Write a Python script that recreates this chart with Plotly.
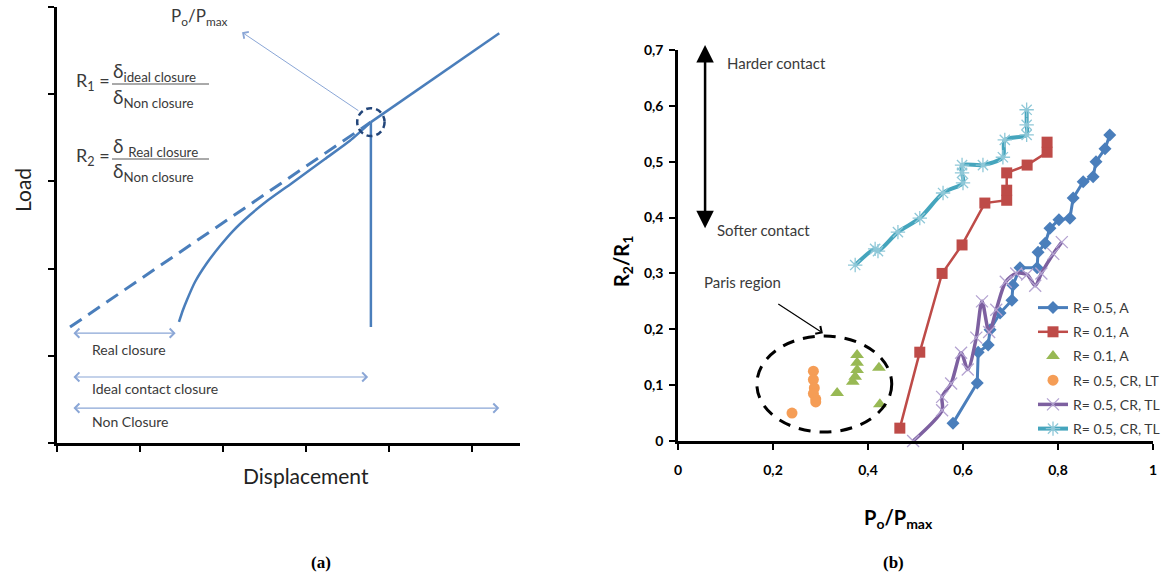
import plotly.graph_objects as go

W, H = 1168, 580

# ---------------- Panel (a): schematic load-displacement data ----------------
ideal_x = [0.157, 3.783]
ideal_y = [1.33, 3.68]
real_x = [1.470, 1.518, 1.566, 1.663, 1.807, 1.964, 2.120, 2.325, 2.530, 2.867, 3.229, 3.530, 3.783]
real_y = [1.388, 1.525, 1.640, 1.846, 2.064, 2.259, 2.431, 2.615, 2.775, 3.005, 3.257, 3.466, 3.680]
open_x = [3.783, 5.33]
open_y = [3.68, 4.70]
unload_x = [3.783, 3.783]
unload_y = [3.68, 1.33]
span_labels = ["Real closure", "Ideal contact closure", "Non Closure"]
span_start = [0.18, 0.18, 0.18]
span_end = [1.43, 3.75, 5.33]
span_y = [1.26, 0.757, 0.40]
label_y = [1.07, 0.62, 0.25]

# ---------------- Panel (b): R2/R1 vs Po/Pmax ----------------
blue_x = [0.579, 0.630, 0.632, 0.653, 0.657, 0.678, 0.703, 0.705, 0.720, 0.756,
          0.758, 0.773, 0.783, 0.802, 0.825, 0.832, 0.853, 0.874, 0.880, 0.899, 0.909]
blue_y = [0.032, 0.104, 0.159, 0.172, 0.199, 0.229, 0.252, 0.279, 0.310, 0.310,
          0.338, 0.354, 0.381, 0.396, 0.399, 0.435, 0.464, 0.473, 0.500, 0.523, 0.548]
red_x = [0.467, 0.509, 0.556, 0.598, 0.646, 0.692, 0.692, 0.692, 0.735, 0.777, 0.777]
red_y = [0.023, 0.159, 0.300, 0.351, 0.426, 0.431, 0.449, 0.480, 0.494, 0.517, 0.535]
green_x = [0.335, 0.377, 0.377, 0.377, 0.373, 0.368, 0.423, 0.425]
green_y = [0.086, 0.154, 0.140, 0.127, 0.115, 0.106, 0.131, 0.066]
orange_x = [0.240, 0.285, 0.285, 0.287, 0.285, 0.290, 0.290]
orange_y = [0.050, 0.125, 0.110, 0.095, 0.085, 0.075, 0.070]
purple_x = [0.495, 0.556, 0.556, 0.575, 0.596, 0.610, 0.628, 0.640, 0.655, 0.670,
            0.690, 0.712, 0.735, 0.752, 0.765, 0.790, 0.808]
purple_y = [0.000, 0.055, 0.079, 0.103, 0.158, 0.128, 0.185, 0.250, 0.195, 0.235,
            0.285, 0.300, 0.298, 0.278, 0.300, 0.335, 0.356]
cyan_x = [0.373, 0.415, 0.421, 0.463, 0.509, 0.558, 0.600, 0.598, 0.598, 0.642,
          0.684, 0.688, 0.734, 0.734, 0.734]
cyan_y = [0.315, 0.344, 0.340, 0.374, 0.399, 0.444, 0.462, 0.480, 0.494, 0.494,
          0.508, 0.539, 0.548, 0.566, 0.593]
x_ticks = [0, 0.2, 0.4, 0.6, 0.8, 1]
y_ticks = [0, 0.1, 0.2, 0.3, 0.4, 0.5, 0.6, 0.7]
legend_names = ["R= 0.5, A", "R= 0.1, A", "R= 0.1, A", "R= 0.5, CR, LT",
                "R= 0.5, CR, TL", "R= 0.5, CR, TL"]


def PX(p):
    return p / W


def PY(p):
    return 1 - p / H


FONT = "Lato"
BLUE_A = "#4a7ebb"
ARROW_C = "#8aa6d6"
TXT = "#3a3a3a"

fig = go.Figure()

# ---- panel (a) traces ----
common_a = dict(xaxis="x", yaxis="y", showlegend=False, hoverinfo="skip", mode="lines")
fig.add_trace(go.Scatter(x=ideal_x, y=ideal_y, line=dict(color=BLUE_A, width=3, dash="14px,8px"), **common_a))
fig.add_trace(go.Scatter(x=real_x, y=real_y, line=dict(color=BLUE_A, width=2.5, shape="spline", smoothing=0.6), **common_a))
fig.add_trace(go.Scatter(x=open_x, y=open_y, line=dict(color=BLUE_A, width=2.5), **common_a))
fig.add_trace(go.Scatter(x=unload_x, y=unload_y, line=dict(color=BLUE_A, width=2.5), **common_a))

# ---- panel (b) traces ----
common_b = dict(xaxis="x2", yaxis="y2", hoverinfo="skip", cliponaxis=False)
fig.add_trace(go.Scatter(x=blue_x, y=blue_y, name=legend_names[0], mode="lines+markers",
                         legendgroup="g1",
                         line=dict(color="#4a7ebb", width=3),
                         marker=dict(symbol="diamond", size=10, color="#4a7ebb"), **common_b))
fig.add_trace(go.Scatter(x=red_x, y=red_y, name=legend_names[1], mode="lines+markers",
                         legendgroup="g2",
                         line=dict(color="#be4b48", width=2.5),
                         marker=dict(symbol="square", size=11, color="#be4b48"), **common_b))
fig.add_trace(go.Scatter(x=green_x, y=green_y, name=legend_names[2], mode="markers",
                         legendgroup="g3",
                         marker=dict(symbol="triangle-up", size=12, color="#98b954"), **common_b))
fig.add_trace(go.Scatter(x=orange_x, y=orange_y, name=legend_names[3], mode="markers",
                         legendgroup="g4",
                         marker=dict(symbol="circle", size=11, color="#f59d56"), **common_b))
fig.add_trace(go.Scatter(x=purple_x, y=purple_y, name=legend_names[4], mode="lines+markers",
                         legendgroup="g5",
                         line=dict(color="#7d60a0", width=3.5, shape="spline", smoothing=0.8),
                         marker=dict(symbol="x-thin", size=12, color="#b4a3d1",
                                     line=dict(color="#b4a3d1", width=1.3)), **common_b))
fig.add_trace(go.Scatter(x=cyan_x, y=cyan_y, name=legend_names[5], mode="lines+markers",
                         legendgroup="g6",
                         line=dict(color="#45a5bd", width=4, shape="spline", smoothing=0.8),
                         marker=dict(symbol="asterisk", size=12, color="#8fc8d8",
                                     line=dict(color="#8fc8d8", width=1.3)), **common_b))

axis_common = dict(showline=True, linecolor="black", linewidth=2.5, ticks="outside",
                   tickcolor="black", tickwidth=2, ticklen=6, showgrid=False,
                   zeroline=False, fixedrange=True)

shapes = []
annotations = []


def paper_text(x, y, text, size, color=TXT, family=FONT, angle=0, xanchor="center"):
    annotations.append(dict(x=PX(x), y=PY(y), xref="paper", yref="paper", text=text,
                            showarrow=False, xanchor=xanchor, yanchor="middle",
                            textangle=angle,
                            font=dict(family=family, size=size, color=color)))


# ---- panel (a) annotations ----
shapes.append(dict(type="circle", xref="x", yref="y",
                   x0=ideal_x[1] - 0.165, x1=ideal_x[1] + 0.165,
                   y0=ideal_y[1] - 0.16, y1=ideal_y[1] + 0.16,
                   line=dict(color="#23467a", width=2.5, dash="6px,4px")))
for lab, xs, xe, ys, ly in zip(span_labels, span_start, span_end, span_y, label_y):
    annotations.append(dict(x=xe, y=ys, ax=xs, ay=ys, xref="x", yref="y", axref="x", ayref="y",
                            text="", showarrow=True, arrowhead=4, startarrowhead=4,
                            arrowside="end+start", arrowsize=1.6, startarrowsize=1.6,
                            arrowwidth=1.1, arrowcolor=ARROW_C))
    annotations.append(dict(x=0.40, y=ly, xref="x", yref="y", text=lab, showarrow=False,
                            xanchor="left", yanchor="middle",
                            font=dict(family=FONT, size=14, color=TXT)))
annotations.append(dict(x=2.23, y=4.71, ax=3.65, ay=3.80, xref="x", yref="y", axref="x", ayref="y",
                        text="", showarrow=True, arrowhead=4, arrowsize=1.6, arrowwidth=1,
                        arrowcolor=ARROW_C))
annotations.append(dict(x=1.72, y=4.89, xref="x", yref="y", showarrow=False,
                        xanchor="center", yanchor="middle",
                        text="P<sub>o</sub>/P<sub>max</sub>",
                        font=dict(family=FONT, size=17, color=TXT)))
for lab, yc, num, num_y, line_y, den_y in [
        ("R<sub>1</sub> =", 82, "δ<sub>ideal closure</sub>", 72, 84, 98),
        ("R<sub>2</sub> =", 156, "δ <sub>Real closure</sub>", 147, 159, 172)]:
    paper_text(74, yc, lab, 18, xanchor="left")
    paper_text(111, num_y, num, 19, xanchor="left")
    paper_text(111, den_y, "δ<sub>Non closure</sub>", 19, xanchor="left")
    shapes.append(dict(type="line", xref="paper", yref="paper", x0=PX(112), x1=PX(209),
                       y0=PY(line_y), y1=PY(line_y), line=dict(color="#555555", width=1)))

paper_text(22, 190, "Load", 21, color="#222222", angle=-90)
paper_text(306, 475, "Displacement", 21, color="#222222")
paper_text(321, 562, "<b>(a)</b>", 17, color="black", family="Liberation Serif")
paper_text(893, 562, "<b>(b)</b>", 17, color="black", family="Liberation Serif")

# ---- panel (b) annotations ----
annotations.append(dict(x=0.057, y=0.709, ax=0.057, ay=0.378, xref="x2", yref="y2",
                        axref="x2", ayref="y2", text="", showarrow=True,
                        arrowhead=2, startarrowhead=2, arrowside="end+start",
                        arrowsize=1.4, startarrowsize=1.4, arrowwidth=2.5, arrowcolor="black"))
annotations.append(dict(x=0.099, y=0.677, xref="x2", yref="y2", text="Harder contact",
                        showarrow=False, xanchor="left", yanchor="middle",
                        font=dict(family=FONT, size=15, color=TXT)))
annotations.append(dict(x=0.078, y=0.378, xref="x2", yref="y2", text="Softer contact",
                        showarrow=False, xanchor="left", yanchor="middle",
                        font=dict(family=FONT, size=15, color=TXT)))
annotations.append(dict(x=0.135, y=0.285, xref="x2", yref="y2", text="Paris region",
                        showarrow=False, xanchor="center", yanchor="middle",
                        font=dict(family=FONT, size=15, color=TXT)))
annotations.append(dict(x=0.305, y=0.193, ax=0.208, ay=0.247, xref="x2", yref="y2",
                        axref="x2", ayref="y2", text="", showarrow=True, arrowhead=4,
                        arrowsize=1.5, arrowwidth=1.2, arrowcolor="black"))
shapes.append(dict(type="circle", xref="x2", yref="y2", x0=0.166, x1=0.45, y0=0.016, y1=0.188,
                   line=dict(color="black", width=3, dash="12px,9px")))
paper_text(622, 262, "<b>R<sub>2</sub>/R<sub>1</sub></b>", 20, color="black", angle=-90)
paper_text(898, 518, "<b>P<sub>o</sub>/P<sub>max</sub></b>", 20, color="black")

fig.update_layout(
    width=W, height=H,
    margin=dict(l=0, r=0, t=0, b=0, autoexpand=False),
    paper_bgcolor="white", plot_bgcolor="white",
    separators=",.",
    font=dict(family=FONT, color="black"),
    xaxis=dict(domain=[PX(57), PX(520)], range=[0, 5.58], tickvals=[0, 1, 2, 3, 4, 5],
               showticklabels=False, anchor="y", **axis_common),
    yaxis=dict(domain=[PY(443), PY(7)], range=[0, 5], tickvals=[0, 1, 2, 3, 4, 5],
               showticklabels=False, anchor="x", **axis_common),
    xaxis2=dict(domain=[PX(678), PX(1153)], range=[0, 1], tickvals=x_ticks, anchor="y2",
                tickfont=dict(family=FONT, size=14, color="black", weight="bold"),
                ticklabelstandoff=8, **axis_common),
    yaxis2=dict(domain=[PY(441), PY(50)], range=[0, 0.7], tickvals=y_ticks, anchor="x2",
                tickfont=dict(family=FONT, size=14, color="black", weight="bold"),
                ticklabelstandoff=3, **axis_common),
    legend=dict(x=PX(1033), y=PY(292), xanchor="left", yanchor="top",
                bgcolor="rgba(0,0,0,0)", tracegroupgap=3,
                font=dict(family=FONT, size=14, color=TXT)),
    shapes=shapes,
    annotations=annotations,
)

fig.write_html("out.html", config={"displayModeBar": False},
               post_script="document.body.style.margin='0px';document.body.style.overflow='hidden';")
